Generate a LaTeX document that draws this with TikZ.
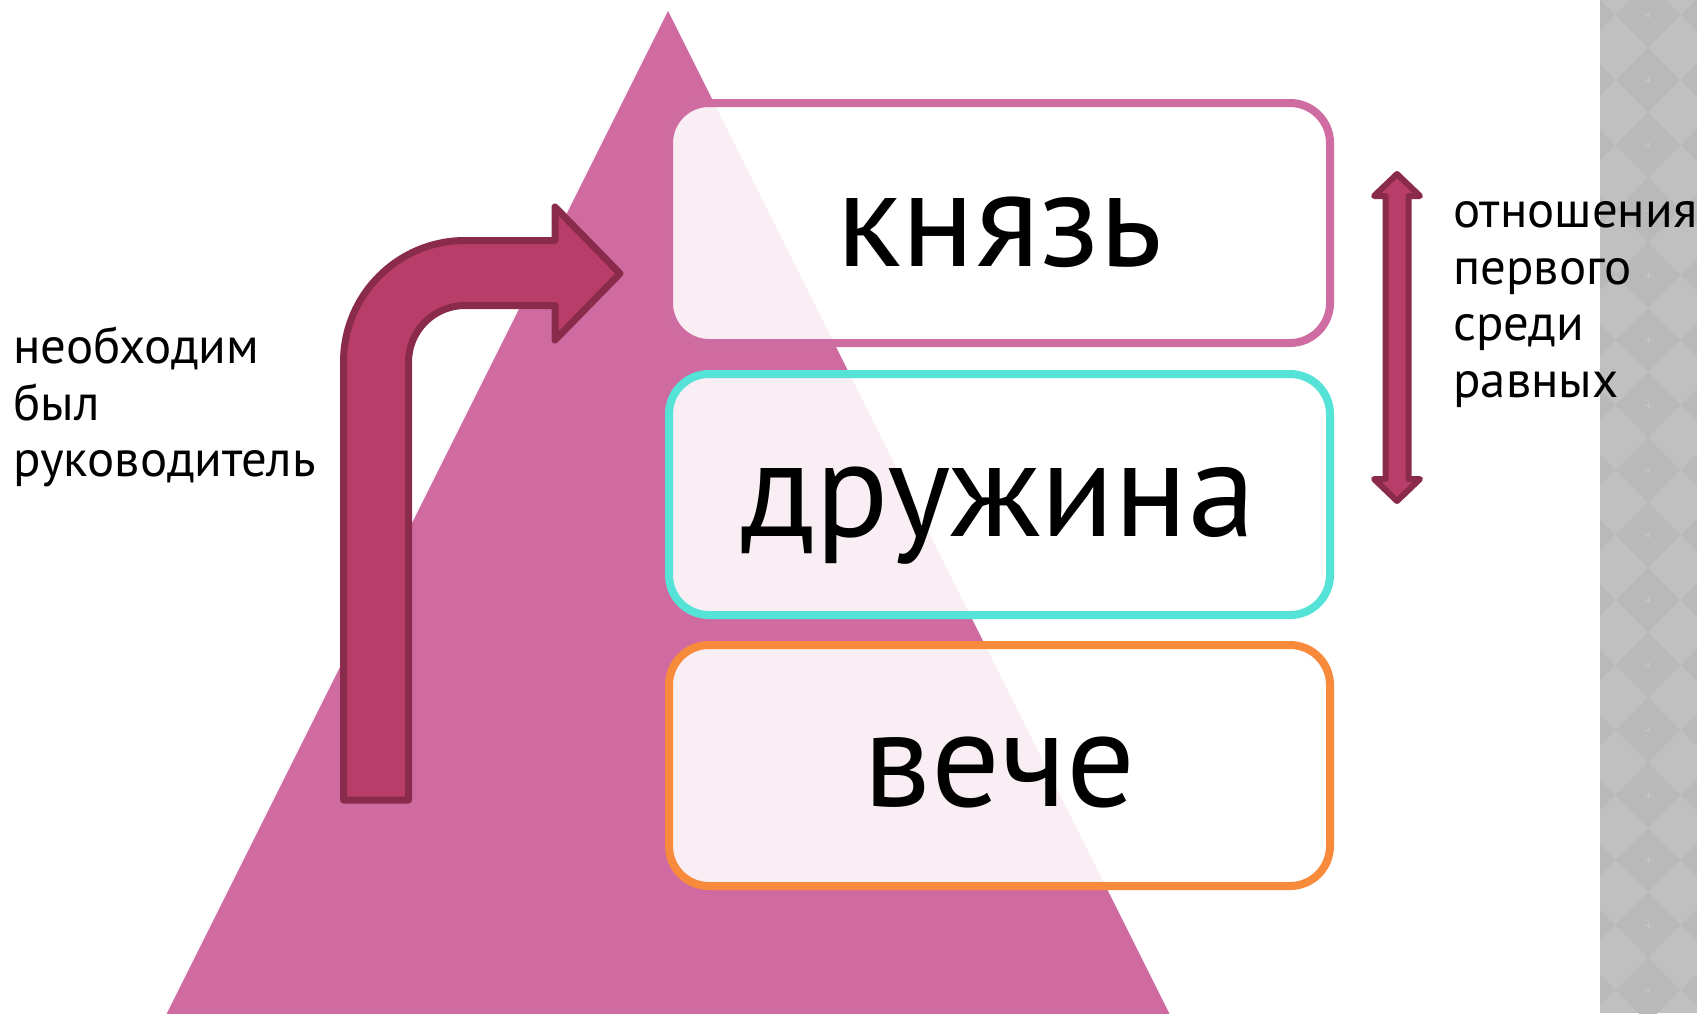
\documentclass[tikz,border=0pt]{standalone}
\usepackage{fontspec}
\setmainfont{PT Sans}
\definecolor{tri}{RGB}{207,107,160}
\definecolor{pinkc}{RGB}{207,108,161}
\definecolor{cyanc}{RGB}{85,227,215}
\definecolor{orangec}{RGB}{248,138,60}
\definecolor{arrfill}{RGB}{184,61,104}
\definecolor{arrdraw}{RGB}{138,43,75}
\definecolor{stripbase}{RGB}{192,192,192}
\definecolor{stripdark}{RGB}{185,185,185}
\definecolor{stripmark}{RGB}{198,198,198}
\tikzset{
  box/.style={rounded corners=20pt, line width=4pt, fill=white, fill opacity=0.89, draw opacity=1, text opacity=1, minimum width=330.5pt, inner sep=0pt},
  bigt/.style={font=\fontsize{68}{76}\selectfont, inner sep=0pt},
  smallt/.style={font=\fontsize{25.4}{28}\selectfont, inner sep=0pt},
  arr/.style={fill=arrfill, draw=arrdraw, line width=3.5pt, line join=round}
}
\begin{document}
\begin{tikzpicture}[x=0.5pt,y=-0.5pt]
\useasboundingbox (0,0) rectangle (1697,1013);
\clip (0,0) rectangle (1697,1013);
\fill[white] (0,0) rectangle (1697,1013);
% patterned strip
\fill[stripbase] (1600,0) rectangle (1697,1013);
\begin{scope}
\clip (1600,0) rectangle (1697,1013);
\foreach \j in {-1,...,16}{
  \foreach \cx in {1583,1648,1713}{
    \fill[stripdark] (\cx,{65*\j-17.5}) -- ++(32.5,32.5) -- ++(-32.5,32.5) -- ++(-32.5,-32.5) -- cycle;
  }
  \draw[stripmark, line width=0.4pt] (1645,{65*\j+15}) -- (1651,{65*\j+15}) (1648,{65*\j+12}) -- (1648,{65*\j+18});
}
\end{scope}
% triangle
\fill[tri] (668,11) -- (1175,1025) -- (161,1025) -- cycle;
% boxes
\node[box, draw=pinkc, minimum height=120pt] (b1) at (999.5,223) {};
\node[box, draw=cyanc, minimum height=120.5pt] (b2) at (999.5,494.5) {};
\node[box, draw=orangec, minimum height=120.5pt] (b3) at (999.5,765.5) {};
\node[bigt, anchor=base] (t1) at (1000,266) {князь};
\node[bigt, anchor=base] (t2) at (998.5,536) {дружина};
\node[bigt, anchor=base] (t3) at (999.5,806) {вече};
% bent arrow
\draw[arr] (343.5,800) -- (343.5,362) arc[start angle=180,end angle=90,radius=60.75pt]
  -- (555,240.5) -- (555,207) -- (620,273.5) -- (555,340) -- (555,305.5) -- (465,305.5)
  arc[start angle=90,end angle=180,radius=28.25pt] -- (408.5,800) -- cycle;
% double arrow
\draw[arr, line width=3pt] (1397,174) -- (1420,196) -- (1408.5,196) -- (1408.5,479) -- (1420,479)
  -- (1397,501) -- (1374,479) -- (1385.5,479) -- (1385.5,196) -- (1374,196) -- cycle;
% left text
\node[smallt, anchor=base west] (l1) at (13,363) {необходим};
\node[smallt, anchor=base west] (l2) at (13,420) {был};
\node[smallt, anchor=base west] (l3) at (13,476) {руководитель};
% right text
\node[smallt, anchor=base west] (r1) at (1453,227) {отношения};
\node[smallt, anchor=base west] (r2) at (1453,284) {первого};
\node[smallt, anchor=base west] (r3) at (1453,340) {среди};
\node[smallt, anchor=base west] (r4) at (1453,397) {равных};
\end{tikzpicture}
\end{document}
